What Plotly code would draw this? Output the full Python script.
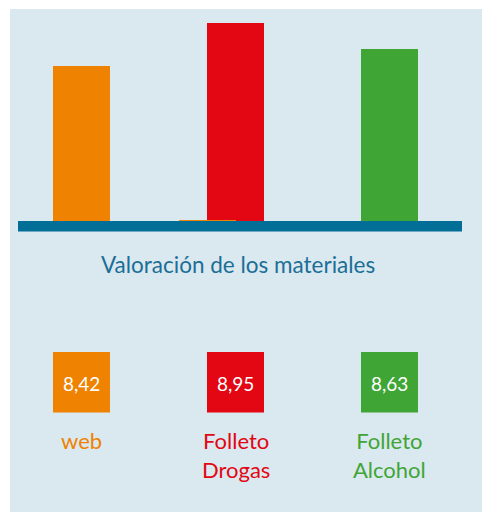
import plotly.graph_objects as go

categories = ["web", "Folleto<br>Drogas", "Folleto<br>Alcohol"]
values = [8.42, 8.95, 8.63]
value_labels = ["8,42", "8,95", "8,63"]
colors = ["#ef8200", "#e30613", "#3fa535"]
title_text = "Valoración de los materiales"

W, H = 482, 512
def px(x):
    return x / W
def py(y):
    return 1 - y / H

base = 6.51
scale = 81.1  # px per unit
top_px, bot_px = 9, 221
ymax = base + (bot_px - top_px) / scale

unit_px, c0_px = 154.0, 81.5
L_px, R_px = 2, 470
xr = [(L_px - c0_px) / unit_px, (R_px - c0_px) / unit_px]

xs = list(range(len(values)))
fig = go.Figure()
fig.add_trace(go.Bar(
    x=xs, y=[v - base for v in values], base=base,
    marker=dict(color=colors, line=dict(width=0)),
    width=0.37, hoverinfo="skip", showlegend=False,
))

shapes = []
# panel background
shapes.append(dict(type="rect", xref="paper", yref="paper", x0=px(10), x1=1.0, y0=0.0, y1=py(9),
                   fillcolor="#dae8f0", line=dict(width=0), layer="below"))
# baseline
shapes.append(dict(type="rect", xref="paper", yref="paper", x0=px(18), x1=px(462), y0=py(231.5), y1=py(221),
                   fillcolor="#006e96", line=dict(width=0), layer="above"))
# thin orange artifact line
shapes.append(dict(type="rect", xref="paper", yref="paper", x0=px(179), x1=px(236), y0=py(221), y1=py(220),
                   fillcolor="#ef8200", line=dict(width=0), layer="above"))
# value boxes
for i, c in enumerate(colors):
    shapes.append(dict(type="rect", xref="x", yref="paper", x0=i - 0.185, x1=i + 0.185,
                       y0=py(412.5), y1=py(352), fillcolor=c, line=dict(width=0)))

annotations = [dict(x=px(237.5), y=py(264), xref="paper", yref="paper", text=title_text,
                    showarrow=False, font=dict(family="Lato", size=22.5, color="#1b6f96"),
                    xanchor="center", yanchor="middle")]
for i, (lab, vl, c) in enumerate(zip(categories, value_labels, colors)):
    annotations.append(dict(x=i, y=py(383), xref="x", yref="paper", text=vl, showarrow=False,
                            font=dict(family="Lato", size=19, color="white"),
                            xanchor="center", yanchor="middle"))
    annotations.append(dict(x=i, y=py(425), xref="x", yref="paper", text=lab, showarrow=False,
                            font=dict(family="Lato", size=22, color=c),
                            xanchor="center", yanchor="top", align="center"))

fig.update_layout(
    width=W, height=H, margin=dict(l=0, r=0, t=0, b=0),
    paper_bgcolor="white", plot_bgcolor="rgba(0,0,0,0)",
    xaxis=dict(domain=[px(L_px), px(R_px)], range=xr, visible=False, fixedrange=True),
    yaxis=dict(domain=[py(bot_px), py(top_px)], range=[base, ymax], visible=False, fixedrange=True),
    shapes=shapes, annotations=annotations, bargap=0, hovermode=False,
)
fig.write_html(
    "out.html",
    config={"displayModeBar": False, "staticPlot": True},
    post_script="document.body.style.margin='0';document.body.style.overflow='hidden';",
)
